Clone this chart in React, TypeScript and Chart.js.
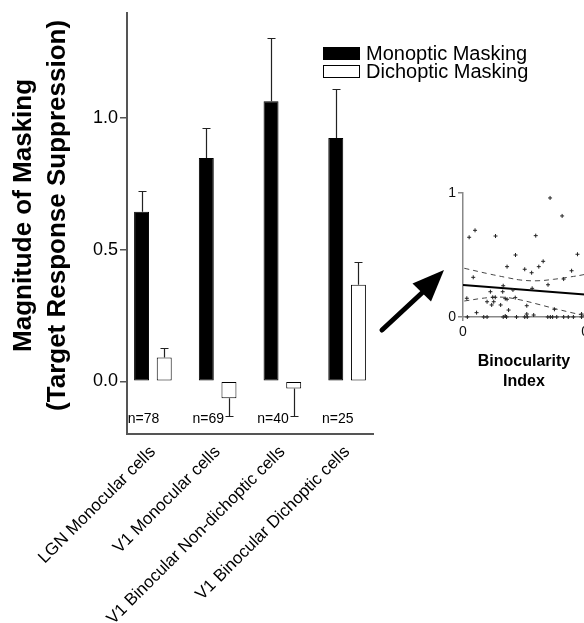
import React, { useEffect, useRef } from "react";
import { Chart, registerables } from "chart.js";
Chart.register(...registerables);

const FONT = "'Liberation Sans', Arial, Helvetica, sans-serif";

// ---------- main bar chart data ----------
const categories = [
  "LGN Monocular cells",
  "V1 Monocular cells",
  "V1 Binocular Non-dichoptic cells",
  "V1 Binocular Dichoptic cells",
];
const seriesNames = ["Monoptic Masking", "Dichoptic Masking"];
const monoptic = [0.644, 0.848, 1.064, 0.924];
const monopticErr = [0.079, 0.114, 0.242, 0.186];
const dichoptic = [0.091, -0.064, -0.027, 0.367];
const dichopticErr = [0.034, 0.069, 0.106, 0.087];
const cellCounts = ["n=78", "n=69", "n=40", "n=25"];
const yTicks = [0, 0.5, 1.0];
const yTitle = ["Magnitude of Masking", "(Target Response Suppression)"];

// ---------- inset scatter data ----------
const insetX = [
  0.024, 0.047, 0.127, 0.205, 0.284, 0.34, 0.387, 0.313, 0.447, 0.172, 0.241, 0.268,
  0.296, 0.424, 0.04, 0.393, 0.157, 0.27, 0.332, 0.195, 0.107, 0.155, 0.015, 0.116,
  0.126, 0.165, 0.204, 0.094, 0.12, 0.112, 0.147, 0.172, 0.249, 0.178, 0.357, 0.053,
  0.249, 0.276, 0.165, 0.463,
  0.017, 0.081, 0.094, 0.157, 0.17, 0.209, 0.241, 0.251, 0.331, 0.341, 0.35,
  0.366, 0.393, 0.411, 0.431, 0.463,
];
const insetY = [
  0.643, 0.699, 0.653, 0.5, 0.656, 0.96, 0.815, 0.449, 0.506, 0.406, 0.385, 0.357,
  0.406, 0.373, 0.32, 0.306, 0.252, 0.231, 0.26, 0.218, 0.204, 0.204, 0.151, 0.159,
  0.159, 0.148, 0.156, 0.123, 0.123, 0.097, 0.097, 0.143, 0.091, 0.056, 0.062, 0.035,
  0.024, 0.016, 0.008, 0.024,
  0, 0, 0, 0, 0, 0, 0, 0, 0, 0, 0, 0, 0, 0, 0, 0,
];
const fitX = [0, 0.5];
const fitY = [0.258, 0.177];
const ciUpperX = [0.005, 0.096, 0.174, 0.226, 0.289, 0.354, 0.418, 0.465, 0.51];
const ciUpperY = [0.393, 0.35, 0.317, 0.298, 0.292, 0.304, 0.323, 0.339, 0.36];
const ciLowerX = [0.005, 0.098, 0.161, 0.226, 0.289, 0.354, 0.418, 0.465, 0.51];
const ciLowerY = [0.129, 0.156, 0.159, 0.137, 0.105, 0.07, 0.038, 0.016, 0.0];
const insetXTicks = [0, 0.5, 1];
const insetYTicks = [0, 1];
const insetTitle = ["Binocularity", "Index"];

const mainDecor = {
  id: "mainDecor",
  afterDatasetsDraw(chart: any) {
    const { ctx, scales } = chart;
    const ys = scales.y;
    ctx.save();
    const sets: [number[], number[]][] = [
      [monoptic, monopticErr],
      [dichoptic, dichopticErr],
    ];
    ctx.strokeStyle = "#222";
    ctx.lineWidth = 1.2;
    sets.forEach(([vals, errs], di) => {
      const meta = chart.getDatasetMeta(di);
      meta.data.forEach((bar: any, i: number) => {
        const v = vals[i];
        const end = v >= 0 ? v + errs[i] : v - errs[i];
        const x = Math.round(bar.x) + 0.5;
        const y0 = ys.getPixelForValue(v);
        const y1 = Math.round(ys.getPixelForValue(end)) + 0.5;
        ctx.beginPath();
        ctx.moveTo(x, y0);
        ctx.lineTo(x, y1);
        ctx.moveTo(x - 4, y1);
        ctx.lineTo(x + 4, y1);
        ctx.stroke();
      });
    });
    // n= labels
    ctx.fillStyle = "#000";
    ctx.font = `14px ${FONT}`;
    ctx.textAlign = "center";
    ctx.textBaseline = "alphabetic";
    const m0 = chart.getDatasetMeta(0);
    m0.data.forEach((bar: any, i: number) => {
      ctx.fillText(cellCounts[i], bar.x + 2, ys.getPixelForValue(-0.159));
    });
    ctx.restore();
  },
  afterDraw(chart: any) {
    const { ctx, chartArea } = chart;
    ctx.save();
    ctx.fillStyle = "#000";
    ctx.font = `bold 26px ${FONT}`;
    ctx.textAlign = "center";
    ctx.textBaseline = "alphabetic";
    const cy = (chartArea.top + chartArea.bottom) / 2 - 8;
    [31, 65].forEach((bx, i) => {
      ctx.save();
      ctx.translate(bx, cy);
      ctx.rotate(-Math.PI / 2);
      ctx.fillText(yTitle[i], 0, 0);
      ctx.restore();
    });
    // legend
    const lx = chartArea.right - 50;
    ctx.font = `20px ${FONT}`;
    ctx.textAlign = "left";
    seriesNames.forEach((name, i) => {
      const base = 60 + i * 18;
      const ds = chart.data.datasets[i];
      ctx.fillStyle = ds.backgroundColor;
      ctx.fillRect(lx, base - 13, 37, 13);
      ctx.strokeStyle = "#000";
      ctx.lineWidth = 1;
      ctx.strokeRect(lx + 0.5, base - 12.5, 36, 12);
      ctx.fillStyle = "#000";
      ctx.fillText(name, lx + 43, base);
    });
    // arrow towards inset
    ctx.strokeStyle = "#000";
    ctx.fillStyle = "#000";
    ctx.lineWidth = 5;
    ctx.lineCap = "round";
    ctx.beginPath();
    ctx.moveTo(382, 330);
    ctx.lineTo(424, 291);
    ctx.stroke();
    ctx.beginPath();
    ctx.moveTo(444, 270);
    ctx.lineTo(412.5, 283.5);
    ctx.lineTo(431, 301.5);
    ctx.closePath();
    ctx.fill();
    ctx.restore();
  },
};

const insetDecor = {
  id: "insetDecor",
  afterDraw(chart: any) {
    const { ctx, chartArea } = chart;
    ctx.save();
    ctx.fillStyle = "#000";
    ctx.font = `bold 16px ${FONT}`;
    ctx.textAlign = "center";
    ctx.textBaseline = "alphabetic";
    const cx = chartArea.left + 61;
    insetTitle.forEach((t, i) => {
      ctx.fillText(t, cx, chartArea.bottom + 49 + i * 20);
    });
    ctx.restore();
  },
};

export default function App() {
  const mainRef = useRef<HTMLCanvasElement>(null);
  const insetRef = useRef<HTMLCanvasElement>(null);

  useEffect(() => {
    Chart.defaults.font.family = FONT;
    const main = new Chart(mainRef.current as HTMLCanvasElement, {
      type: "bar",
      data: {
        datasets: [
          {
            label: seriesNames[0],
            data: monoptic.map((v, i) => ({ x: i, y: v })),
            backgroundColor: "#000",
            borderColor: "#000",
            borderWidth: 1,
            borderSkipped: false,
            categoryPercentage: 0.7,
            barPercentage: 0.66,
          },
          {
            label: seriesNames[1],
            data: dichoptic.map((v, i) => ({ x: i, y: v })),
            backgroundColor: "#fff",
            borderColor: "#000",
            borderWidth: 1,
            borderSkipped: false,
            categoryPercentage: 0.7,
            barPercentage: 0.66,
          },
        ] as any,
      },
      options: {
        animation: false,
        responsive: false,
        layout: { padding: { top: 12, right: 211, left: 0, bottom: 0 } },
        plugins: { legend: { display: false }, tooltip: { enabled: false } },
        scales: {
          x: {
            type: "linear",
            offset: false,
            min: -0.4,
            max: 3.4,
            afterBuildTicks: (s: any) => {
              s.ticks = categories.map((_, i) => ({ value: i }));
            },
            afterFit: (s: any) => {
              s.height = 189;
            },
            grid: { display: false, drawTicks: false, offset: false },
            border: { display: true, color: "#555", width: 2 },
            ticks: {
              autoSkip: false,
              minRotation: 45,
              maxRotation: 45,
              padding: 8,
              color: "#000",
              font: { size: 17, family: FONT },
              callback: (v: any) => categories[v] ?? "",
            },
          },
          y: {
            min: -0.2,
            max: 1.4,
            afterBuildTicks: (s: any) => {
              s.ticks = yTicks.map((v) => ({ value: v }));
            },
            afterFit: (s: any) => {
              s.width = 127;
            },
            grid: {
              display: true,
              drawOnChartArea: false,
              drawTicks: true,
              tickLength: 7,
              color: "#555",
              lineWidth: 1.5,
            },
            border: { display: true, color: "#555", width: 2 },
            ticks: {
              padding: 2,
              color: "#000",
              font: { size: 18, family: FONT },
              callback: (v: any) => Number(v).toFixed(1),
            },
          },
        },
      } as any,
      plugins: [mainDecor],
    });

    const inset = new Chart(insetRef.current as HTMLCanvasElement, {
      type: "scatter",
      data: {
        datasets: [
          {
            data: insetX.map((x, i) => ({ x, y: insetY[i] })),
            pointStyle: "cross",
            radius: 2,
            borderColor: "#222",
            borderWidth: 1,
            clip: false,
          },
          {
            type: "line",
            data: fitX.map((x, i) => ({ x, y: fitY[i] })),
            borderColor: "#000",
            borderWidth: 2,
            pointRadius: 0,
            showLine: true,
          },
          {
            type: "line",
            data: ciUpperX.map((x, i) => ({ x, y: ciUpperY[i] })),
            borderColor: "#444",
            borderWidth: 1,
            borderDash: [5, 4],
            pointRadius: 0,
            tension: 0.4,
            showLine: true,
          },
          {
            type: "line",
            data: ciLowerX.map((x, i) => ({ x, y: ciLowerY[i] })),
            borderColor: "#444",
            borderWidth: 1,
            borderDash: [5, 4],
            pointRadius: 0,
            tension: 0.4,
            showLine: true,
          },
        ] as any,
      },
      options: {
        animation: false,
        responsive: false,
        layout: { padding: { top: 43, right: 3, left: 0, bottom: 0 } },
        plugins: { legend: { display: false }, tooltip: { enabled: false } },
        scales: {
          x: {
            type: "linear",
            min: 0,
            max: 1,
            afterBuildTicks: (s: any) => {
              s.ticks = insetXTicks.map((v) => ({ value: v }));
            },
            afterFit: (s: any) => {
              s.height = 93;
            },
            grid: { drawOnChartArea: false, drawTicks: true, tickLength: 4, color: "#888", lineWidth: 1.5 },
            border: { display: true, color: "#888", width: 1.5 },
            ticks: { padding: 3, color: "#111", font: { size: 14, family: FONT }, callback: (v: any) => String(v) },
          },
          y: {
            min: 0,
            max: 1,
            afterBuildTicks: (s: any) => {
              s.ticks = insetYTicks.map((v) => ({ value: v }));
            },
            afterFit: (s: any) => {
              s.width = 83;
            },
            grid: { drawOnChartArea: false, drawTicks: true, tickLength: 5, color: "#888", lineWidth: 1.5 },
            border: { display: true, color: "#888", width: 1.5 },
            ticks: { padding: 2, color: "#111", font: { size: 14, family: FONT }, callback: (v: any) => String(v) },
          },
        },
      } as any,
      plugins: [insetDecor],
    });

    return () => {
      main.destroy();
      inset.destroy();
    };
  }, []);

  return (
    <div
      style={{
        position: "fixed",
        left: 0,
        top: 0,
        width: 584,
        height: 623,
        overflow: "hidden",
        background: "#fff",
      }}
    >
      <canvas ref={mainRef} width={584} height={623} style={{ position: "absolute", left: 0, top: 0 }} />
      <canvas ref={insetRef} width={346} height={260} style={{ position: "absolute", left: 380, top: 150 }} />
    </div>
  );
}
